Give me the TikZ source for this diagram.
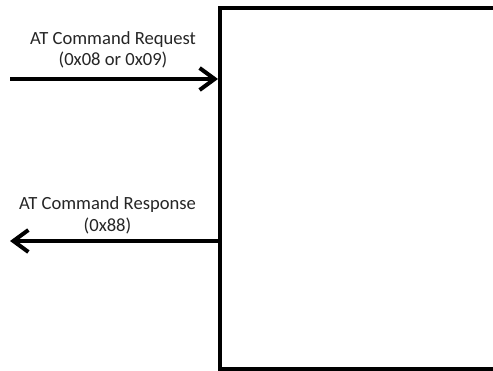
\documentclass[tikz,border=0pt]{standalone}
\usepackage{fontspec}
\setmainfont{Carlito}
\usetikzlibrary{arrows.meta}
\begin{document}
\begin{tikzpicture}[x=1pt,y=1pt,
  lbl/.style={font=\fontsize{18.6}{21}\selectfont, align=center, inner sep=0pt, text=black!85},
  flow/.style={line width=4pt, -{Straight Barb[length=15pt,width=22pt,line width=4pt]}}]
\useasboundingbox (0,0) rectangle (493,370);
\clip (0,0) rectangle (493,370);
\fill[white] (0,0) rectangle (493,370);
\node[draw, line width=4pt, minimum width=320pt, minimum height=361pt, anchor=north west, inner sep=0pt] (box) at (218,364) {};
\coordinate (reqstart) at (10,291);
\coordinate (resend) at (10,129);
\coordinate (resstart) at (218,129);
\draw[flow] (reqstart) -- (box.west |- reqstart);
\draw[flow] (resstart) -- (resend);
\node[lbl, anchor=base] (req) at (113,304) {AT Command Request\\(0x08 or 0x09)};
\node[lbl, anchor=base] (res) at (107.5,139) {AT Command Response\\(0x88)};
\end{tikzpicture}
\end{document}
